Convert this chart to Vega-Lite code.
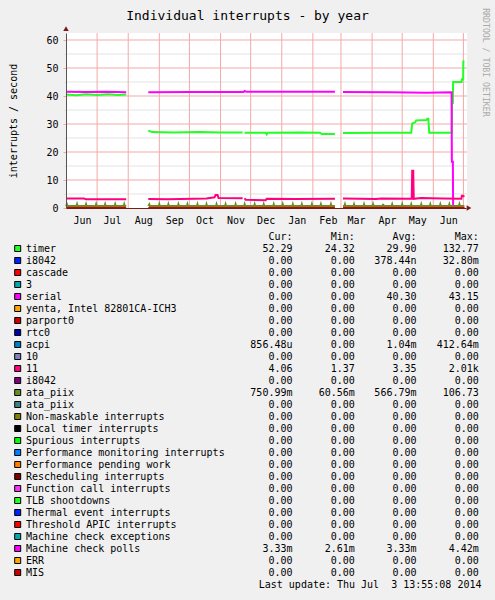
{
  "$schema": "https://vega.github.io/schema/vega-lite/v6.json",
  "width": 400,
  "height": 557,
  "autosize": {"type": "none"},
  "padding": {"left": 66, "top": 33, "right": 29, "bottom": 10},
  "background": "#f0f0f0",
  "config": {
    "view": {"stroke": null},
    "text": {"font": "DejaVu Sans Mono", "fontSize": 10, "color": "#000000"},
    "axis": {"labelFont": "DejaVu Sans Mono", "titleFont": "DejaVu Sans Mono", "labelFontSize": 10, "titleFontSize": 10, "labelColor": "#000000", "titleColor": "#000000", "titleFontWeight": "normal", "labelOverlap": false}
  },
  "datasets": {
    "one": [{"k": 1}],
    "hgrid": [{"g": 5}, {"g": 10}, {"g": 15}, {"g": 20}, {"g": 25}, {"g": 30}, {"g": 35}, {"g": 40}, {"g": 45}, {"g": 50}, {"g": 55}, {"g": 60}],
    "months": [{"m": "2013-07-01"}, {"m": "2013-08-01"}, {"m": "2013-09-01"}, {"m": "2013-10-01"}, {"m": "2013-11-01"}, {"m": "2013-12-01"}, {"m": "2014-01-01"}, {"m": "2014-02-01"}, {"m": "2014-03-01"}, {"m": "2014-04-01"}, {"m": "2014-05-01"}, {"m": "2014-06-01"}, {"m": "2014-07-01"}],
    "lines": [
      {"s": "timer", "seg": "a", "d": "2013-05-31", "v": 40.5},
      {"s": "timer", "seg": "a", "d": "2013-06-10", "v": 40.3},
      {"s": "timer", "seg": "a", "d": "2013-06-20", "v": 40.6},
      {"s": "timer", "seg": "a", "d": "2013-07-01", "v": 40.4},
      {"s": "timer", "seg": "a", "d": "2013-07-12", "v": 40.6},
      {"s": "timer", "seg": "a", "d": "2013-07-22", "v": 40.4},
      {"s": "timer", "seg": "a", "d": "2013-07-30", "v": 40.5},
      {"s": "timer", "seg": "b", "d": "2013-08-21", "v": 27.6},
      {"s": "timer", "seg": "b", "d": "2013-08-25", "v": 27.1},
      {"s": "timer", "seg": "b", "d": "2013-09-15", "v": 27.0},
      {"s": "timer", "seg": "b", "d": "2013-10-10", "v": 27.1},
      {"s": "timer", "seg": "b", "d": "2013-11-01", "v": 27.0},
      {"s": "timer", "seg": "b", "d": "2013-11-23", "v": 27.0},
      {"s": "timer", "seg": "c", "d": "2013-11-25", "v": 26.9},
      {"s": "timer", "seg": "c", "d": "2013-12-16", "v": 26.9},
      {"s": "timer", "seg": "c", "d": "2013-12-17", "v": 26.3},
      {"s": "timer", "seg": "c", "d": "2013-12-18", "v": 26.9},
      {"s": "timer", "seg": "c", "d": "2014-01-20", "v": 27.0},
      {"s": "timer", "seg": "c", "d": "2014-02-08", "v": 26.9},
      {"s": "timer", "seg": "c", "d": "2014-02-10", "v": 26.4},
      {"s": "timer", "seg": "c", "d": "2014-02-23", "v": 26.4},
      {"s": "timer", "seg": "d", "d": "2014-03-03", "v": 26.8},
      {"s": "timer", "seg": "d", "d": "2014-04-15", "v": 26.9},
      {"s": "timer", "seg": "d", "d": "2014-05-10", "v": 26.9},
      {"s": "timer", "seg": "d", "d": "2014-05-11", "v": 30.2},
      {"s": "timer", "seg": "d", "d": "2014-05-14", "v": 30.6},
      {"s": "timer", "seg": "d", "d": "2014-05-15", "v": 31.3},
      {"s": "timer", "seg": "d", "d": "2014-05-25", "v": 31.4},
      {"s": "timer", "seg": "d", "d": "2014-05-26", "v": 31.9},
      {"s": "timer", "seg": "d", "d": "2014-05-27", "v": 31.9},
      {"s": "timer", "seg": "d", "d": "2014-05-28", "v": 26.9},
      {"s": "timer", "seg": "d", "d": "2014-06-19T06:00:00Z", "v": 26.9},
      {"s": "timer", "seg": "d", "d": "2014-06-19T18:00:00Z", "v": 37.5},
      {"s": "timer", "seg": "d", "d": "2014-06-20T12:00:00Z", "v": 37.5},
      {"s": "timer", "seg": "d", "d": "2014-06-20T18:00:00Z", "v": 45.0},
      {"s": "timer", "seg": "d", "d": "2014-06-29T06:00:00Z", "v": 45.0},
      {"s": "timer", "seg": "d", "d": "2014-06-29T12:00:00Z", "v": 46.0},
      {"s": "timer", "seg": "d", "d": "2014-06-30T18:00:00Z", "v": 46.0},
      {"s": "timer", "seg": "d", "d": "2014-06-30T22:00:00Z", "v": 52.3},
      {"s": "timer", "seg": "d", "d": "2014-07-02", "v": 52.3},
      {"s": "serial", "seg": "a", "d": "2013-05-31", "v": 41.5},
      {"s": "serial", "seg": "a", "d": "2013-06-20", "v": 41.4},
      {"s": "serial", "seg": "a", "d": "2013-07-10", "v": 41.5},
      {"s": "serial", "seg": "a", "d": "2013-07-30", "v": 41.3},
      {"s": "serial", "seg": "b", "d": "2013-08-21", "v": 41.3},
      {"s": "serial", "seg": "b", "d": "2013-10-01", "v": 41.4},
      {"s": "serial", "seg": "b", "d": "2013-11-24", "v": 41.4},
      {"s": "serial", "seg": "b", "d": "2013-11-25", "v": 41.8},
      {"s": "serial", "seg": "b", "d": "2013-11-27", "v": 41.5},
      {"s": "serial", "seg": "b", "d": "2014-01-10", "v": 41.5},
      {"s": "serial", "seg": "b", "d": "2014-02-23", "v": 41.5},
      {"s": "serial", "seg": "c", "d": "2014-03-03", "v": 41.4},
      {"s": "serial", "seg": "c", "d": "2014-04-20", "v": 41.3},
      {"s": "serial", "seg": "c", "d": "2014-05-25", "v": 41.2},
      {"s": "serial", "seg": "c", "d": "2014-06-19T06:00:00Z", "v": 41.3},
      {"s": "serial", "seg": "c", "d": "2014-06-19T12:00:00Z", "v": 16.5},
      {"s": "serial", "seg": "c", "d": "2014-06-20T12:00:00Z", "v": 16.5},
      {"s": "serial", "seg": "c", "d": "2014-06-20T18:00:00Z", "v": 0},
      {"s": "serial", "seg": "c", "d": "2014-07-02", "v": 0},
      {"s": "11", "seg": "a", "d": "2013-05-31", "v": 3.4},
      {"s": "11", "seg": "a", "d": "2013-06-18", "v": 3.4},
      {"s": "11", "seg": "a", "d": "2013-06-20", "v": 3.1},
      {"s": "11", "seg": "a", "d": "2013-07-30", "v": 3.1},
      {"s": "11", "seg": "b", "d": "2013-08-21", "v": 3.2},
      {"s": "11", "seg": "b", "d": "2013-09-10", "v": 3.1},
      {"s": "11", "seg": "b", "d": "2013-10-05", "v": 3.3},
      {"s": "11", "seg": "b", "d": "2013-10-18", "v": 3.4},
      {"s": "11", "seg": "b", "d": "2013-10-26", "v": 3.8},
      {"s": "11", "seg": "b", "d": "2013-10-27", "v": 4.6},
      {"s": "11", "seg": "b", "d": "2013-10-29", "v": 4.6},
      {"s": "11", "seg": "b", "d": "2013-10-30", "v": 3.6},
      {"s": "11", "seg": "b", "d": "2013-11-23", "v": 3.5},
      {"s": "11", "seg": "c", "d": "2013-11-25", "v": 3.5},
      {"s": "11", "seg": "c", "d": "2013-11-26", "v": 2.9},
      {"s": "11", "seg": "c", "d": "2013-12-16", "v": 2.8},
      {"s": "11", "seg": "c", "d": "2013-12-17", "v": 3.3},
      {"s": "11", "seg": "c", "d": "2014-01-15", "v": 3.2},
      {"s": "11", "seg": "c", "d": "2014-02-23", "v": 3.3},
      {"s": "11", "seg": "d", "d": "2014-03-03", "v": 3.4},
      {"s": "11", "seg": "d", "d": "2014-04-05", "v": 3.2},
      {"s": "11", "seg": "d", "d": "2014-04-10", "v": 3.4},
      {"s": "11", "seg": "d", "d": "2014-05-10T12:00:00Z", "v": 3.3},
      {"s": "11", "seg": "d", "d": "2014-05-11", "v": 13.3},
      {"s": "11", "seg": "d", "d": "2014-05-12", "v": 13.3},
      {"s": "11", "seg": "d", "d": "2014-05-12T12:00:00Z", "v": 3.3},
      {"s": "11", "seg": "d", "d": "2014-05-20", "v": 3.6},
      {"s": "11", "seg": "d", "d": "2014-06-10", "v": 3.4},
      {"s": "11", "seg": "d", "d": "2014-06-29", "v": 3.3},
      {"s": "11", "seg": "d", "d": "2014-06-29T12:00:00Z", "v": 4.4},
      {"s": "11", "seg": "d", "d": "2014-06-30T12:00:00Z", "v": 4.4},
      {"s": "11", "seg": "d", "d": "2014-07-02", "v": 4.0},
      {"s": "ata_piix", "seg": "a", "d": "2013-05-31", "v": 0.7},
      {"s": "ata_piix", "seg": "a", "d": "2013-06-01", "v": 1.3},
      {"s": "ata_piix", "seg": "a", "d": "2013-06-01T12:00:00Z", "v": 0.7},
      {"s": "ata_piix", "seg": "a", "d": "2013-06-10T12:00:00Z", "v": 0.7},
      {"s": "ata_piix", "seg": "a", "d": "2013-06-11", "v": 1.3},
      {"s": "ata_piix", "seg": "a", "d": "2013-06-11T12:00:00Z", "v": 0.7},
      {"s": "ata_piix", "seg": "a", "d": "2013-06-19T12:00:00Z", "v": 0.7},
      {"s": "ata_piix", "seg": "a", "d": "2013-06-20", "v": 1.3},
      {"s": "ata_piix", "seg": "a", "d": "2013-06-20T12:00:00Z", "v": 0.7},
      {"s": "ata_piix", "seg": "a", "d": "2013-06-29T12:00:00Z", "v": 0.7},
      {"s": "ata_piix", "seg": "a", "d": "2013-06-30", "v": 1.3},
      {"s": "ata_piix", "seg": "a", "d": "2013-06-30T12:00:00Z", "v": 0.7},
      {"s": "ata_piix", "seg": "a", "d": "2013-07-08T12:00:00Z", "v": 0.7},
      {"s": "ata_piix", "seg": "a", "d": "2013-07-09", "v": 1.3},
      {"s": "ata_piix", "seg": "a", "d": "2013-07-09T12:00:00Z", "v": 0.7},
      {"s": "ata_piix", "seg": "a", "d": "2013-07-18T12:00:00Z", "v": 0.7},
      {"s": "ata_piix", "seg": "a", "d": "2013-07-19", "v": 1.3},
      {"s": "ata_piix", "seg": "a", "d": "2013-07-19T12:00:00Z", "v": 0.7},
      {"s": "ata_piix", "seg": "a", "d": "2013-07-27T12:00:00Z", "v": 0.7},
      {"s": "ata_piix", "seg": "a", "d": "2013-07-28", "v": 1.3},
      {"s": "ata_piix", "seg": "a", "d": "2013-07-28T12:00:00Z", "v": 0.7},
      {"s": "ata_piix", "seg": "a", "d": "2013-07-30", "v": 0.7},
      {"s": "ata_piix", "seg": "b", "d": "2013-08-21", "v": 0.7},
      {"s": "ata_piix", "seg": "b", "d": "2013-08-22", "v": 1.3},
      {"s": "ata_piix", "seg": "b", "d": "2013-08-22T12:00:00Z", "v": 0.7},
      {"s": "ata_piix", "seg": "b", "d": "2013-08-31T12:00:00Z", "v": 0.7},
      {"s": "ata_piix", "seg": "b", "d": "2013-09-01", "v": 1.3},
      {"s": "ata_piix", "seg": "b", "d": "2013-09-01T12:00:00Z", "v": 0.7},
      {"s": "ata_piix", "seg": "b", "d": "2013-09-09T12:00:00Z", "v": 0.7},
      {"s": "ata_piix", "seg": "b", "d": "2013-09-10", "v": 1.3},
      {"s": "ata_piix", "seg": "b", "d": "2013-09-10T12:00:00Z", "v": 0.7},
      {"s": "ata_piix", "seg": "b", "d": "2013-09-19T12:00:00Z", "v": 0.7},
      {"s": "ata_piix", "seg": "b", "d": "2013-09-20", "v": 1.3},
      {"s": "ata_piix", "seg": "b", "d": "2013-09-20T12:00:00Z", "v": 0.7},
      {"s": "ata_piix", "seg": "b", "d": "2013-09-28T12:00:00Z", "v": 0.7},
      {"s": "ata_piix", "seg": "b", "d": "2013-09-29", "v": 1.3},
      {"s": "ata_piix", "seg": "b", "d": "2013-09-29T12:00:00Z", "v": 0.7},
      {"s": "ata_piix", "seg": "b", "d": "2013-10-08T12:00:00Z", "v": 0.7},
      {"s": "ata_piix", "seg": "b", "d": "2013-10-09", "v": 1.3},
      {"s": "ata_piix", "seg": "b", "d": "2013-10-09T12:00:00Z", "v": 0.7},
      {"s": "ata_piix", "seg": "b", "d": "2013-10-17T12:00:00Z", "v": 0.7},
      {"s": "ata_piix", "seg": "b", "d": "2013-10-18", "v": 1.3},
      {"s": "ata_piix", "seg": "b", "d": "2013-10-18T12:00:00Z", "v": 0.7},
      {"s": "ata_piix", "seg": "b", "d": "2013-10-27T12:00:00Z", "v": 0.7},
      {"s": "ata_piix", "seg": "b", "d": "2013-10-28", "v": 1.3},
      {"s": "ata_piix", "seg": "b", "d": "2013-10-28T12:00:00Z", "v": 0.7},
      {"s": "ata_piix", "seg": "b", "d": "2013-11-05T12:00:00Z", "v": 0.7},
      {"s": "ata_piix", "seg": "b", "d": "2013-11-06", "v": 1.3},
      {"s": "ata_piix", "seg": "b", "d": "2013-11-06T12:00:00Z", "v": 0.7},
      {"s": "ata_piix", "seg": "b", "d": "2013-11-15T12:00:00Z", "v": 0.7},
      {"s": "ata_piix", "seg": "b", "d": "2013-11-16", "v": 1.3},
      {"s": "ata_piix", "seg": "b", "d": "2013-11-16T12:00:00Z", "v": 0.7},
      {"s": "ata_piix", "seg": "b", "d": "2013-11-24T12:00:00Z", "v": 0.7},
      {"s": "ata_piix", "seg": "b", "d": "2013-11-25", "v": 1.3},
      {"s": "ata_piix", "seg": "b", "d": "2013-11-25T12:00:00Z", "v": 0.7},
      {"s": "ata_piix", "seg": "b", "d": "2013-12-04T12:00:00Z", "v": 0.7},
      {"s": "ata_piix", "seg": "b", "d": "2013-12-05", "v": 1.3},
      {"s": "ata_piix", "seg": "b", "d": "2013-12-05T12:00:00Z", "v": 0.7},
      {"s": "ata_piix", "seg": "b", "d": "2013-12-13T12:00:00Z", "v": 0.7},
      {"s": "ata_piix", "seg": "b", "d": "2013-12-14", "v": 1.3},
      {"s": "ata_piix", "seg": "b", "d": "2013-12-14T12:00:00Z", "v": 0.7},
      {"s": "ata_piix", "seg": "b", "d": "2013-12-23T12:00:00Z", "v": 0.7},
      {"s": "ata_piix", "seg": "b", "d": "2013-12-24", "v": 1.3},
      {"s": "ata_piix", "seg": "b", "d": "2013-12-24T12:00:00Z", "v": 0.7},
      {"s": "ata_piix", "seg": "b", "d": "2014-01-01T12:00:00Z", "v": 0.7},
      {"s": "ata_piix", "seg": "b", "d": "2014-01-02", "v": 1.3},
      {"s": "ata_piix", "seg": "b", "d": "2014-01-02T12:00:00Z", "v": 0.7},
      {"s": "ata_piix", "seg": "b", "d": "2014-01-11T12:00:00Z", "v": 0.7},
      {"s": "ata_piix", "seg": "b", "d": "2014-01-12", "v": 1.3},
      {"s": "ata_piix", "seg": "b", "d": "2014-01-12T12:00:00Z", "v": 0.7},
      {"s": "ata_piix", "seg": "b", "d": "2014-01-20T12:00:00Z", "v": 0.7},
      {"s": "ata_piix", "seg": "b", "d": "2014-01-21", "v": 1.3},
      {"s": "ata_piix", "seg": "b", "d": "2014-01-21T12:00:00Z", "v": 0.7},
      {"s": "ata_piix", "seg": "b", "d": "2014-01-30T12:00:00Z", "v": 0.7},
      {"s": "ata_piix", "seg": "b", "d": "2014-01-31", "v": 1.3},
      {"s": "ata_piix", "seg": "b", "d": "2014-01-31T12:00:00Z", "v": 0.7},
      {"s": "ata_piix", "seg": "b", "d": "2014-02-08T12:00:00Z", "v": 0.7},
      {"s": "ata_piix", "seg": "b", "d": "2014-02-09", "v": 1.3},
      {"s": "ata_piix", "seg": "b", "d": "2014-02-09T12:00:00Z", "v": 0.7},
      {"s": "ata_piix", "seg": "b", "d": "2014-02-18T12:00:00Z", "v": 0.7},
      {"s": "ata_piix", "seg": "b", "d": "2014-02-19", "v": 1.3},
      {"s": "ata_piix", "seg": "b", "d": "2014-02-19T12:00:00Z", "v": 0.7},
      {"s": "ata_piix", "seg": "b", "d": "2014-02-23", "v": 0.7},
      {"s": "ata_piix", "seg": "c", "d": "2014-03-03", "v": 0.7},
      {"s": "ata_piix", "seg": "c", "d": "2014-03-04T12:00:00Z", "v": 0.7},
      {"s": "ata_piix", "seg": "c", "d": "2014-03-05", "v": 1.3},
      {"s": "ata_piix", "seg": "c", "d": "2014-03-05T12:00:00Z", "v": 0.7},
      {"s": "ata_piix", "seg": "c", "d": "2014-03-13T12:00:00Z", "v": 0.7},
      {"s": "ata_piix", "seg": "c", "d": "2014-03-14", "v": 1.3},
      {"s": "ata_piix", "seg": "c", "d": "2014-03-14T12:00:00Z", "v": 0.7},
      {"s": "ata_piix", "seg": "c", "d": "2014-03-23T12:00:00Z", "v": 0.7},
      {"s": "ata_piix", "seg": "c", "d": "2014-03-24", "v": 1.3},
      {"s": "ata_piix", "seg": "c", "d": "2014-03-24T12:00:00Z", "v": 0.7},
      {"s": "ata_piix", "seg": "c", "d": "2014-04-01T12:00:00Z", "v": 0.7},
      {"s": "ata_piix", "seg": "c", "d": "2014-04-02", "v": 1.3},
      {"s": "ata_piix", "seg": "c", "d": "2014-04-02T12:00:00Z", "v": 0.7},
      {"s": "ata_piix", "seg": "c", "d": "2014-04-11T12:00:00Z", "v": 0.7},
      {"s": "ata_piix", "seg": "c", "d": "2014-04-12", "v": 1.4},
      {"s": "ata_piix", "seg": "c", "d": "2014-04-12T12:00:00Z", "v": 0.7},
      {"s": "ata_piix", "seg": "c", "d": "2014-04-20T12:00:00Z", "v": 0.7},
      {"s": "ata_piix", "seg": "c", "d": "2014-04-21", "v": 1.3},
      {"s": "ata_piix", "seg": "c", "d": "2014-04-21T12:00:00Z", "v": 0.7},
      {"s": "ata_piix", "seg": "c", "d": "2014-04-30T12:00:00Z", "v": 0.7},
      {"s": "ata_piix", "seg": "c", "d": "2014-05-01", "v": 1.3},
      {"s": "ata_piix", "seg": "c", "d": "2014-05-01T12:00:00Z", "v": 0.7},
      {"s": "ata_piix", "seg": "c", "d": "2014-05-09T12:00:00Z", "v": 0.7},
      {"s": "ata_piix", "seg": "c", "d": "2014-05-10", "v": 1.3},
      {"s": "ata_piix", "seg": "c", "d": "2014-05-10T12:00:00Z", "v": 0.7},
      {"s": "ata_piix", "seg": "c", "d": "2014-05-19T12:00:00Z", "v": 0.7},
      {"s": "ata_piix", "seg": "c", "d": "2014-05-20", "v": 1.3},
      {"s": "ata_piix", "seg": "c", "d": "2014-05-20T12:00:00Z", "v": 0.7},
      {"s": "ata_piix", "seg": "c", "d": "2014-05-28T12:00:00Z", "v": 0.7},
      {"s": "ata_piix", "seg": "c", "d": "2014-05-29", "v": 1.3},
      {"s": "ata_piix", "seg": "c", "d": "2014-05-29T12:00:00Z", "v": 0.7},
      {"s": "ata_piix", "seg": "c", "d": "2014-06-07T12:00:00Z", "v": 0.7},
      {"s": "ata_piix", "seg": "c", "d": "2014-06-08", "v": 1.3},
      {"s": "ata_piix", "seg": "c", "d": "2014-06-08T12:00:00Z", "v": 0.7},
      {"s": "ata_piix", "seg": "c", "d": "2014-06-16T12:00:00Z", "v": 0.7},
      {"s": "ata_piix", "seg": "c", "d": "2014-06-17", "v": 1.3},
      {"s": "ata_piix", "seg": "c", "d": "2014-06-17T12:00:00Z", "v": 0.7},
      {"s": "ata_piix", "seg": "c", "d": "2014-06-26T12:00:00Z", "v": 0.7},
      {"s": "ata_piix", "seg": "c", "d": "2014-06-27", "v": 1.3},
      {"s": "ata_piix", "seg": "c", "d": "2014-06-27T12:00:00Z", "v": 0.7},
      {"s": "ata_piix", "seg": "c", "d": "2014-07-02", "v": 0.7},
      {"s": "MIS", "seg": "a", "d": "2013-05-31", "v": 0},
      {"s": "MIS", "seg": "a", "d": "2013-07-30", "v": 0},
      {"s": "MIS", "seg": "b", "d": "2013-08-21", "v": 0},
      {"s": "MIS", "seg": "b", "d": "2014-02-23", "v": 0},
      {"s": "MIS", "seg": "c", "d": "2014-03-03", "v": 0},
      {"s": "MIS", "seg": "c", "d": "2014-07-02", "v": 0}
    ],
    "legend": [
      {"key": "hdr", "label": "", "cur": "Cur:\u00a0\u00a0", "min": "Min:\u00a0\u00a0", "avg": "Avg:\u00a0\u00a0", "max": "Max:\u00a0\u00a0"},
      {"key": "timer", "label": "timer", "cur": "52.29\u00a0", "min": "24.32\u00a0", "avg": "29.90\u00a0", "max": "132.77\u00a0"},
      {"key": "i8042", "label": "i8042", "cur": "0.00\u00a0", "min": "0.00\u00a0", "avg": "378.44n", "max": "32.80m"},
      {"key": "cascade", "label": "cascade", "cur": "0.00\u00a0", "min": "0.00\u00a0", "avg": "0.00\u00a0", "max": "0.00\u00a0"},
      {"key": "3", "label": "3", "cur": "0.00\u00a0", "min": "0.00\u00a0", "avg": "0.00\u00a0", "max": "0.00\u00a0"},
      {"key": "serial", "label": "serial", "cur": "0.00\u00a0", "min": "0.00\u00a0", "avg": "40.30\u00a0", "max": "43.15\u00a0"},
      {"key": "yenta", "label": "yenta, Intel 82801CA-ICH3", "cur": "0.00\u00a0", "min": "0.00\u00a0", "avg": "0.00\u00a0", "max": "0.00\u00a0"},
      {"key": "parport0", "label": "parport0", "cur": "0.00\u00a0", "min": "0.00\u00a0", "avg": "0.00\u00a0", "max": "0.00\u00a0"},
      {"key": "rtc0", "label": "rtc0", "cur": "0.00\u00a0", "min": "0.00\u00a0", "avg": "0.00\u00a0", "max": "0.00\u00a0"},
      {"key": "acpi", "label": "acpi", "cur": "856.48u", "min": "0.00\u00a0", "avg": "1.04m", "max": "412.64m"},
      {"key": "10", "label": "10", "cur": "0.00\u00a0", "min": "0.00\u00a0", "avg": "0.00\u00a0", "max": "0.00\u00a0"},
      {"key": "11", "label": "11", "cur": "4.06\u00a0", "min": "1.37\u00a0", "avg": "3.35\u00a0", "max": "2.01k"},
      {"key": "i8042b", "label": "i8042", "cur": "0.00\u00a0", "min": "0.00\u00a0", "avg": "0.00\u00a0", "max": "0.00\u00a0"},
      {"key": "ata_piix", "label": "ata_piix", "cur": "750.99m", "min": "60.56m", "avg": "566.79m", "max": "106.73\u00a0"},
      {"key": "ata_piixb", "label": "ata_piix", "cur": "0.00\u00a0", "min": "0.00\u00a0", "avg": "0.00\u00a0", "max": "0.00\u00a0"},
      {"key": "NMI", "label": "Non-maskable interrupts", "cur": "0.00\u00a0", "min": "0.00\u00a0", "avg": "0.00\u00a0", "max": "0.00\u00a0"},
      {"key": "LOC", "label": "Local timer interrupts", "cur": "0.00\u00a0", "min": "0.00\u00a0", "avg": "0.00\u00a0", "max": "0.00\u00a0"},
      {"key": "SPU", "label": "Spurious interrupts", "cur": "0.00\u00a0", "min": "0.00\u00a0", "avg": "0.00\u00a0", "max": "0.00\u00a0"},
      {"key": "PMI", "label": "Performance monitoring interrupts", "cur": "0.00\u00a0", "min": "0.00\u00a0", "avg": "0.00\u00a0", "max": "0.00\u00a0"},
      {"key": "IWI", "label": "Performance pending work", "cur": "0.00\u00a0", "min": "0.00\u00a0", "avg": "0.00\u00a0", "max": "0.00\u00a0"},
      {"key": "RES", "label": "Rescheduling interrupts", "cur": "0.00\u00a0", "min": "0.00\u00a0", "avg": "0.00\u00a0", "max": "0.00\u00a0"},
      {"key": "CAL", "label": "Function call interrupts", "cur": "0.00\u00a0", "min": "0.00\u00a0", "avg": "0.00\u00a0", "max": "0.00\u00a0"},
      {"key": "TLB", "label": "TLB shootdowns", "cur": "0.00\u00a0", "min": "0.00\u00a0", "avg": "0.00\u00a0", "max": "0.00\u00a0"},
      {"key": "TRM", "label": "Thermal event interrupts", "cur": "0.00\u00a0", "min": "0.00\u00a0", "avg": "0.00\u00a0", "max": "0.00\u00a0"},
      {"key": "THR", "label": "Threshold APIC interrupts", "cur": "0.00\u00a0", "min": "0.00\u00a0", "avg": "0.00\u00a0", "max": "0.00\u00a0"},
      {"key": "MCE", "label": "Machine check exceptions", "cur": "0.00\u00a0", "min": "0.00\u00a0", "avg": "0.00\u00a0", "max": "0.00\u00a0"},
      {"key": "MCP", "label": "Machine check polls", "cur": "3.33m", "min": "2.61m", "avg": "3.33m", "max": "4.42m"},
      {"key": "ERR", "label": "ERR", "cur": "0.00\u00a0", "min": "0.00\u00a0", "avg": "0.00\u00a0", "max": "0.00\u00a0"},
      {"key": "MIS", "label": "MIS", "cur": "0.00\u00a0", "min": "0.00\u00a0", "avg": "0.00\u00a0", "max": "0.00\u00a0"},
      {"key": "upd", "label": "", "note": "Last update: Thu Jul \u00a03 13:55:08 2014"}
    ]
  },
  "layer": [
    {
      "layer": [
        {
          "data": {"name": "one"},
          "mark": {"type": "rect", "fill": "#ffffff"},
          "encoding": {
            "x": {"datum": {"year": 2013, "month": 5, "date": 31, "utc": true}, "type": "temporal", "scale": {"type": "utc", "domain": [{"year": 2013, "month": 5, "date": 31, "utc": true}, {"year": 2014, "month": 7, "date": 3, "hours": 14, "utc": true}]}},
            "x2": {"datum": {"year": 2014, "month": 7, "date": 4, "hours": 14, "utc": true}},
            "y": {"datum": 0, "type": "quantitative", "scale": {"domain": [0, 62.5], "range": [175, 0], "nice": false, "zero": false}},
            "y2": {"datum": 62.5}
          }
        },
        {
          "data": {"name": "hgrid"},
          "mark": {"type": "rule", "strokeWidth": 1},
          "encoding": {
            "x": {"datum": {"year": 2013, "month": 5, "date": 31, "utc": true}, "type": "temporal", "scale": {"type": "utc", "domain": [{"year": 2013, "month": 5, "date": 31, "utc": true}, {"year": 2014, "month": 7, "date": 3, "hours": 14, "utc": true}]}},
            "x2": {"datum": {"year": 2014, "month": 7, "date": 4, "hours": 14, "utc": true}},
            "y": {"field": "g", "type": "quantitative", "scale": {"domain": [0, 62.5], "range": [175, 0], "nice": false, "zero": false}},
            "color": {"condition": {"test": "datum.g % 10 === 0", "value": "#f3a9a9"}, "value": "#e3e3e3"}
          }
        },
        {
          "data": {"name": "months"},
          "mark": {"type": "rule", "strokeWidth": 1, "color": "#f3a9a9"},
          "encoding": {
            "x": {"field": "m", "type": "temporal", "scale": {"type": "utc", "domain": [{"year": 2013, "month": 5, "date": 31, "utc": true}, {"year": 2014, "month": 7, "date": 3, "hours": 14, "utc": true}]}},
            "y": {"datum": 0, "type": "quantitative", "scale": {"domain": [0, 62.5], "range": [175, 0], "nice": false, "zero": false}},
            "y2": {"datum": 62.5}
          }
        },
        {
          "data": {"name": "lines"},
          "mark": {"type": "line", "strokeWidth": 2, "interpolate": "linear"},
          "encoding": {
            "x": {
              "field": "d", "type": "temporal",
              "scale": {"type": "utc", "domain": [{"year": 2013, "month": 5, "date": 31, "utc": true}, {"year": 2014, "month": 7, "date": 3, "hours": 14, "utc": true}]},
              "axis": {
                "title": null,
                "tickCount": {"interval": "month", "step": 1},
                "labelExpr": "utcFormat(datum.value, '%b %Y') === 'Jul 2014' ? '' : utcFormat(datum.value, '%b')",
                "labelOffset": 15, "offset": -382,
                "ticks": false, "tickSize": 0, "grid": false,
                "domainColor": "#7a1a1a", "domainWidth": 1,
                "labelPadding": 7, "labelOverlap": false, "labelFlush": false, "labelBound": false,
                "zindex": 1
              }
            },
            "y": {
              "field": "v", "type": "quantitative",
              "scale": {"domain": [0, 62.5], "range": [175, 0], "nice": false, "zero": false},
              "axis": {
                "title": "interrupts / second",
                "values": [0, 5, 10, 15, 20, 25, 30, 35, 40, 45, 50, 55, 60],
                "labelExpr": "datum.value % 10 === 0 ? datum.label : ''",
                "grid": false,
                "tickSize": 3,
                "tickColor": {"condition": {"test": "datum.value % 10 === 0", "value": "#f3a9a9"}, "value": "#e3e3e3"},
                "labelPadding": 5,
                "domainColor": "#555555",
                "titlePadding": 27,
                "labelFlush": false, "labelOverlap": false,
                "zindex": 1
              }
            },
            "color": {
              "field": "s", "type": "nominal", "legend": null,
              "scale": {
                "domain": ["timer", "i8042", "cascade", "3", "serial", "yenta", "parport0", "rtc0", "acpi", "10", "11", "i8042b", "ata_piix", "ata_piixb", "NMI", "LOC", "SPU", "PMI", "IWI", "RES", "CAL", "TLB", "TRM", "THR", "MCE", "MCP", "ERR", "MIS"],
                "range": ["#22ff22", "#0022ff", "#ff0000", "#00aaaa", "#ff00ff", "#ffa500", "#cc0000", "#0000aa", "#0080c0", "#8080c0", "#ff0080", "#800080", "#688e23", "#408080", "#808000", "#000000", "#00ff00", "#0080ff", "#ff8000", "#800000", "#fb31fb", "#22ff22", "#0022ff", "#ff0000", "#00aaaa", "#ff00ff", "#ffa500", "#cc0000"]
              }
            },
            "detail": {"field": "seg", "type": "nominal"}
          }
        },
        {
          "data": {"name": "one"},
          "mark": {"type": "point", "shape": "triangle-right", "filled": true, "color": "#7a1a1a", "size": 30, "opacity": 1},
          "encoding": {
            "x": {"datum": {"year": 2014, "month": 7, "date": 6, "hours": 14, "utc": true}, "type": "temporal", "scale": {"type": "utc", "domain": [{"year": 2013, "month": 5, "date": 31, "utc": true}, {"year": 2014, "month": 7, "date": 3, "hours": 14, "utc": true}]}},
            "y": {"datum": 0, "type": "quantitative", "scale": {"domain": [0, 62.5], "range": [175, 0], "nice": false, "zero": false}}
          }
        },
        {
          "data": {"name": "one"},
          "mark": {"type": "point", "shape": "triangle-up", "filled": true, "color": "#7a1a1a", "size": 30, "opacity": 1},
          "encoding": {
            "x": {"datum": {"year": 2013, "month": 5, "date": 31, "utc": true}, "type": "temporal", "scale": {"type": "utc", "domain": [{"year": 2013, "month": 5, "date": 31, "utc": true}, {"year": 2014, "month": 7, "date": 3, "hours": 14, "utc": true}]}},
            "y": {"datum": 64.1, "type": "quantitative", "scale": {"domain": [0, 62.5], "range": [175, 0], "nice": false, "zero": false}}
          }
        },
        {
          "data": {"name": "one"},
          "mark": {"type": "text", "text": "Individual interrupts - by year", "font": "DejaVu Sans Mono", "fontSize": 13, "align": "center", "baseline": "middle", "color": "#000000"},
          "encoding": {
            "x": {"datum": {"year": 2013, "month": 11, "date": 27, "hours": 21, "utc": true}, "type": "temporal", "scale": {"type": "utc", "domain": [{"year": 2013, "month": 5, "date": 31, "utc": true}, {"year": 2014, "month": 7, "date": 3, "hours": 14, "utc": true}]}},
            "y": {"datum": 68.4, "type": "quantitative", "scale": {"domain": [0, 62.5], "range": [175, 0], "nice": false, "zero": false}}
          }
        },
        {
          "data": {"name": "one"},
          "mark": {"type": "text", "text": "RRDTOOL / TOBI OETIKER", "font": "DejaVu Sans Mono", "fontSize": 8.2, "angle": 90, "align": "center", "baseline": "middle", "color": "#aaaaaa"},
          "encoding": {
            "x": {"datum": {"year": 2014, "month": 7, "date": 23, "utc": true}, "type": "temporal", "scale": {"type": "utc", "domain": [{"year": 2013, "month": 5, "date": 31, "utc": true}, {"year": 2014, "month": 7, "date": 3, "hours": 14, "utc": true}]}},
            "y": {"datum": 52, "type": "quantitative", "scale": {"domain": [0, 62.5], "range": [175, 0], "nice": false, "zero": false}}
          }
        }
      ]
    },
    {
      "data": {"name": "legend"},
      "layer": [
        {
          "transform": [{"filter": "datum.key !== 'hdr' && datum.key !== 'upd'"}],
          "mark": {"type": "square", "size": 36, "filled": true, "stroke": "#000000", "strokeWidth": 1, "opacity": 1},
          "encoding": {
            "x": {"datum": 2.95, "type": "quantitative", "axis": null, "scale": {"domain": [0, 82.5], "range": [-66, 429], "nice": false, "zero": false}},
            "y": {"field": "key", "type": "nominal", "axis": null, "sort": null, "scale": {"domain": ["hdr", "timer", "i8042", "cascade", "3", "serial", "yenta", "parport0", "rtc0", "acpi", "10", "11", "i8042b", "ata_piix", "ata_piixb", "NMI", "LOC", "SPU", "PMI", "IWI", "RES", "CAL", "TLB", "TRM", "THR", "MCE", "MCP", "ERR", "MIS", "upd"], "range": [197.5, 557.5], "paddingInner": 0, "paddingOuter": 0}},
            "color": {
              "field": "key", "type": "nominal", "legend": null,
              "scale": {
                "domain": ["timer", "i8042", "cascade", "3", "serial", "yenta", "parport0", "rtc0", "acpi", "10", "11", "i8042b", "ata_piix", "ata_piixb", "NMI", "LOC", "SPU", "PMI", "IWI", "RES", "CAL", "TLB", "TRM", "THR", "MCE", "MCP", "ERR", "MIS"],
                "range": ["#22ff22", "#0022ff", "#ff0000", "#00aaaa", "#ff00ff", "#ffa500", "#cc0000", "#0000aa", "#0080c0", "#8080c0", "#ff0080", "#800080", "#688e23", "#408080", "#808000", "#000000", "#00ff00", "#0080ff", "#ff8000", "#800000", "#fb31fb", "#22ff22", "#0022ff", "#ff0000", "#00aaaa", "#ff00ff", "#ffa500", "#cc0000"]
              }
            }
          }
        },
        {
          "transform": [{"filter": "datum.key !== 'upd'"}],
          "mark": {"type": "text", "align": "left", "baseline": "middle"},
          "encoding": {
            "x": {"datum": 4.33, "type": "quantitative", "axis": null, "scale": {"domain": [0, 82.5], "range": [-66, 429], "nice": false, "zero": false}},
            "y": {"field": "key", "type": "nominal", "axis": null, "sort": null},
            "text": {"field": "label"}
          }
        },
        {
          "transform": [{"filter": "datum.key !== 'upd'"}],
          "mark": {"type": "text", "align": "right", "baseline": "middle"},
          "encoding": {
            "x": {"datum": 48.75, "type": "quantitative", "axis": null},
            "y": {"field": "key", "type": "nominal", "axis": null, "sort": null},
            "text": {"field": "cur"}
          }
        },
        {
          "transform": [{"filter": "datum.key !== 'upd'"}],
          "mark": {"type": "text", "align": "right", "baseline": "middle"},
          "encoding": {
            "x": {"datum": 59.13, "type": "quantitative", "axis": null},
            "y": {"field": "key", "type": "nominal", "axis": null, "sort": null},
            "text": {"field": "min"}
          }
        },
        {
          "transform": [{"filter": "datum.key !== 'upd'"}],
          "mark": {"type": "text", "align": "right", "baseline": "middle"},
          "encoding": {
            "x": {"datum": 69.42, "type": "quantitative", "axis": null},
            "y": {"field": "key", "type": "nominal", "axis": null, "sort": null},
            "text": {"field": "avg"}
          }
        },
        {
          "transform": [{"filter": "datum.key !== 'upd'"}],
          "mark": {"type": "text", "align": "right", "baseline": "middle"},
          "encoding": {
            "x": {"datum": 79.8, "type": "quantitative", "axis": null},
            "y": {"field": "key", "type": "nominal", "axis": null, "sort": null},
            "text": {"field": "max"}
          }
        },
        {
          "transform": [{"filter": "datum.key === 'upd'"}],
          "mark": {"type": "text", "align": "right", "baseline": "middle"},
          "encoding": {
            "x": {"datum": 80.25, "type": "quantitative", "axis": null},
            "y": {"field": "key", "type": "nominal", "axis": null, "sort": null},
            "text": {"field": "note"}
          }
        }
      ]
    }
  ],
  "resolve": {"scale": {"x": "independent", "y": "independent"}, "axis": {"x": "independent", "y": "independent"}}
}
